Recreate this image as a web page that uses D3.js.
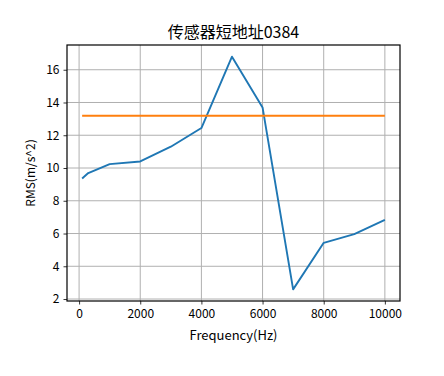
<!DOCTYPE html>
<html>
<head>
<meta charset="utf-8">
<script src="https://cdn.jsdelivr.net/npm/d3@7"></script>
<style>
  body { margin: 0; background: #fff; }
  svg text { font-family: "Noto Sans CJK SC", "DejaVu Sans", sans-serif; fill: #000; }
</style>
</head>
<body>
<div id="chart"></div>
<script>

// Data
const freqs = [100, 300, 1000, 2000, 3000, 4000, 5000, 6000, 7000, 8000, 9000, 10000];
const rms = [9.36, 9.69, 10.24, 10.4, 11.3, 12.44, 16.8, 13.7, 2.59, 5.43, 5.96, 6.83];
const threshold = 13.19;
const xTicks = [0, 2000, 4000, 6000, 8000, 10000];
const yTicks = [2, 4, 6, 8, 10, 12, 14, 16];
const title = "传感器短地址0384";
const xLabel = "Frequency(Hz)";
const yLabel = "RMS(m/s^2)";

const width = 444, height = 376;
const margin = {top: 45, right: 44, bottom: 75, left: 67};
const w = width - margin.left - margin.right;
const h = height - margin.top - margin.bottom;

const svg = d3.select("#chart").append("svg")
    .attr("width", width)
    .attr("height", height);

const g = svg.append("g")
    .attr("transform", "translate(" + margin.left + "," + margin.top + ")");

// matplotlib-style 5% margins around the data
const xPad = (d3.max(freqs) - d3.min(freqs)) * 0.05;
const yPad = (d3.max(rms) - d3.min(rms)) * 0.05;

const x = d3.scaleLinear()
    .domain([d3.min(freqs) - xPad, d3.max(freqs) + xPad])
    .range([0, w]);

const y = d3.scaleLinear()
    .domain([d3.min(rms) - yPad, d3.max(rms) + yPad])
    .range([h, 0]);

// grid
g.append("g").selectAll("line")
    .data(xTicks)
    .enter().append("line")
    .attr("x1", (d) => x(d)).attr("x2", (d) => x(d))
    .attr("y1", 0).attr("y2", h)
    .attr("stroke", "#b0b0b0").attr("stroke-width", 1);

g.append("g").selectAll("line")
    .data(yTicks)
    .enter().append("line")
    .attr("x1", 0).attr("x2", w)
    .attr("y1", (d) => y(d)).attr("y2", (d) => y(d))
    .attr("stroke", "#b0b0b0").attr("stroke-width", 1);

// lines
const line = d3.line()
    .x((d, i) => x(freqs[i]))
    .y((d) => y(d));

g.append("path")
    .datum(rms)
    .attr("d", line)
    .attr("fill", "none")
    .attr("stroke", "#1f77b4")
    .attr("stroke-width", 1.9)
    .attr("stroke-linejoin", "round");

g.append("path")
    .datum([threshold, threshold])
    .attr("d", d3.line()
        .x((d, i) => x(i === 0 ? d3.min(freqs) : d3.max(freqs)))
        .y((d) => y(d)))
    .attr("fill", "none")
    .attr("stroke", "#ff7f0e")
    .attr("stroke-width", 1.9);

// axes
const xAxis = g.append("g")
    .attr("transform", "translate(0," + h + ")")
    .call(d3.axisBottom(x).tickValues(xTicks).tickFormat(d3.format("d")).tickSizeOuter(0).tickSize(3.5).tickPadding(5));

const yAxis = g.append("g")
    .call(d3.axisLeft(y).tickValues(yTicks).tickFormat(d3.format("d")).tickSizeOuter(0).tickSize(3.5).tickPadding(4));

[xAxis, yAxis].forEach(function(a) {
    a.select(".domain").remove();
    a.selectAll(".tick line").attr("stroke", "#000").attr("stroke-width", 0.8);
    a.selectAll("text").style("font-size", "12px").attr("fill", "#000");
});

// frame
g.append("rect")
    .attr("x", 0).attr("y", 0)
    .attr("width", w).attr("height", h)
    .attr("fill", "none")
    .attr("stroke", "#000")
    .attr("stroke-width", 1.2);

// labels
svg.append("text")
    .attr("x", margin.left + w / 2)
    .attr("y", 38)
    .attr("text-anchor", "middle")
    .style("font-size", "16px")
    .text(title);

svg.append("text")
    .attr("x", margin.left + w / 2)
    .attr("y", 340)
    .attr("text-anchor", "middle")
    .style("font-size", "13px")
    .text(xLabel);

svg.append("text")
    .attr("transform", "translate(35," + (margin.top + h / 2) + ") rotate(-90)")
    .attr("text-anchor", "middle")
    .style("font-size", "12px")
    .text(yLabel);

</script>
</body>
</html>
